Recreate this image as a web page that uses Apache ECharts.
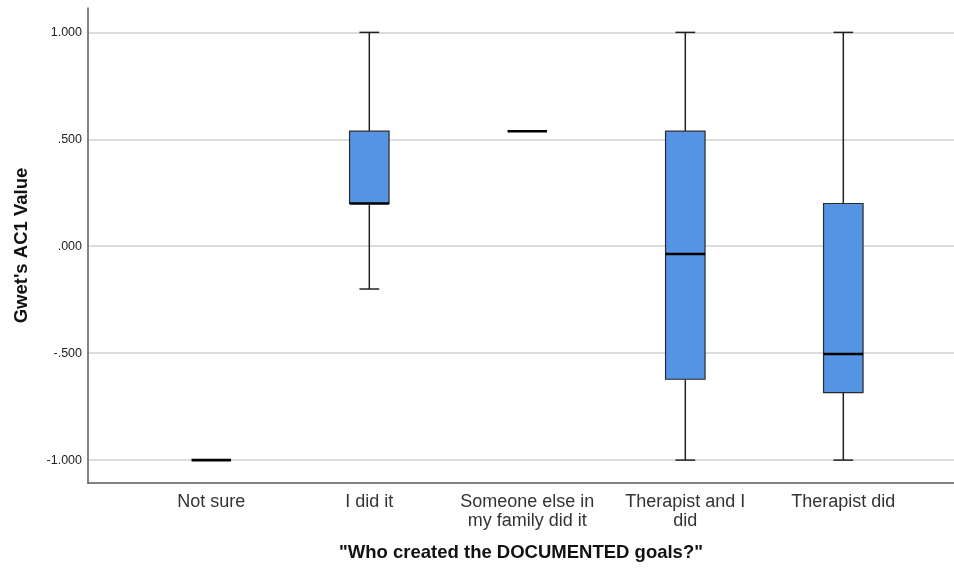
<!DOCTYPE html>
<html>
<head>
<meta charset="utf-8">
<script src="https://cdn.jsdelivr.net/npm/echarts@6/dist/echarts.min.js"></script>
<style>html,body{margin:0;padding:0;background:#fff}#c{width:954px;height:570px}</style>
</head>
<body>
<div id="c"></div>
<script>
// Data
const categories = ['Not sure', 'I did it', 'Someone else in my family did it', 'Therapist and I did', 'Therapist did'];
const mins    = [-1.000, -0.200, 0.538, -1.000, -1.000];
const q1s     = [-1.000,  0.200, 0.538, -0.622, -0.684];
const medians = [-1.000,  0.200, 0.538, -0.036, -0.504];
const q3s     = [-1.000,  0.538, 0.538,  0.538,  0.200];
const maxs    = [-1.000,  1.000, 0.538,  1.000,  1.000];
const yTickValues = [-1, -0.5, 0, 0.5, 1];
const yTitle = "Gwet's AC1 Value";
const xTitle = '"Who created the DOCUMENTED goals?"';

const FONT = "'Liberation Sans', Arial, sans-serif";
const Y_MIN = -1.107, Y_MAX = 1.114;

const boxData = categories.map((c, i) => [i, mins[i], q1s[i], medians[i], q3s[i], maxs[i]]);

function fmt(v) {
  let s = Math.abs(v).toFixed(3);
  if (s.startsWith('0')) s = s.slice(1);
  return (v < 0 ? '-' : '') + s;
}

const chart = echarts.init(document.getElementById('c'), null, {renderer: 'canvas'});
chart.setOption({
  animation: false,
  backgroundColor: '#ffffff',
  grid: [
    {left: 88, top: 8, width: 879, height: 475, containLabel: false},
    {left: 132.3, top: 8, width: 790, height: 475, containLabel: false}
  ],
  xAxis: [
    {
      gridIndex: 0, type: 'value', min: 0, max: 1, position: 'bottom',
      axisLine: {show: true, onZero: false, lineStyle: {color: '#5a5a5a', width: 1.5}},
      axisTick: {show: false}, axisLabel: {show: false}, splitLine: {show: false},
      name: xTitle, nameLocation: 'middle', nameGap: 60,
      nameTextStyle: {fontFamily: FONT, fontSize: 18.5, fontWeight: 'bold', color: '#111'}
    },
    {
      gridIndex: 1, type: 'category', data: categories, boundaryGap: true,
      axisLine: {show: false, onZero: false}, axisTick: {show: false}, splitLine: {show: false},
      axisLabel: {
        interval: 0, margin: 10, fontFamily: FONT, fontSize: 18, color: '#333',
        lineHeight: 18.5, width: 140, overflow: 'break',
        formatter: v => v.replace('Someone else in ', 'Someone else in\n').replace('Therapist and I ', 'Therapist and I\n')
      }
    }
  ],
  yAxis: [
    {
      gridIndex: 0, type: 'value', min: Y_MIN, max: Y_MAX, position: 'left',
      axisLine: {show: true, onZero: false, lineStyle: {color: '#5a5a5a', width: 1.5}},
      axisTick: {show: false},
      axisLabel: {
        show: true, margin: 6, fontFamily: FONT, fontSize: 12.5, color: '#222',
        showMinLabel: false, showMaxLabel: false,
        formatter: v => yTickValues.some(t => Math.abs(t - v) < 1e-6) ? fmt(v) : ''
      },
      splitLine: {show: true, showMinLine: false, showMaxLine: false, lineStyle: {color: '#d2d2d2', width: 1.5}},
      name: yTitle, nameLocation: 'middle', nameGap: 57, nameRotate: 90,
      nameTextStyle: {fontFamily: FONT, fontSize: 18.5, fontWeight: 'bold', color: '#111'}
    },
    {
      gridIndex: 1, type: 'value', min: Y_MIN, max: Y_MAX, show: false,
      splitLine: {show: false}
    }
  ],
  series: [{
    type: 'custom',
    xAxisIndex: 1, yAxisIndex: 1,
    data: boxData,
    encode: {x: 0, y: [1, 2, 3, 4, 5]},
    renderItem: function (params, api) {
      const i = api.value(0);
      const cx = api.coord([i, 0])[0];
      const y = v => api.coord([i, v])[1];
      const yMin = y(api.value(1)), yQ1 = y(api.value(2)), yMed = y(api.value(3)),
            yQ3 = y(api.value(4)), yMax = y(api.value(5));
      const band = api.size([1, 0])[0];
      const bw = band * 0.25, cw = band * 0.125;
      const wStyle = {stroke: '#222', lineWidth: 1.5, fill: null};
      const children = [];
      if (yMax < yQ3) {
        children.push({type: 'line', shape: {x1: cx, y1: yMax, x2: cx, y2: yQ3}, style: wStyle});
        children.push({type: 'line', shape: {x1: cx - cw / 2, y1: yMax, x2: cx + cw / 2, y2: yMax}, style: wStyle});
      }
      if (yMin > yQ1) {
        children.push({type: 'line', shape: {x1: cx, y1: yQ1, x2: cx, y2: yMin}, style: wStyle});
        children.push({type: 'line', shape: {x1: cx - cw / 2, y1: yMin, x2: cx + cw / 2, y2: yMin}, style: wStyle});
      }
      if (yQ1 - yQ3 > 0.5) {
        children.push({type: 'rect', shape: {x: cx - bw / 2, y: yQ3, width: bw, height: yQ1 - yQ3},
          style: {fill: '#5494e3', stroke: '#2a2a2a', lineWidth: 1.2}});
      }
      children.push({type: 'line', shape: {x1: cx - bw / 2, y1: yMed, x2: cx + bw / 2, y2: yMed},
        style: {stroke: '#000', lineWidth: 2.6, fill: null}});
      return {type: 'group', children: children};
    }
  }]
});
</script>
</body>
</html>
